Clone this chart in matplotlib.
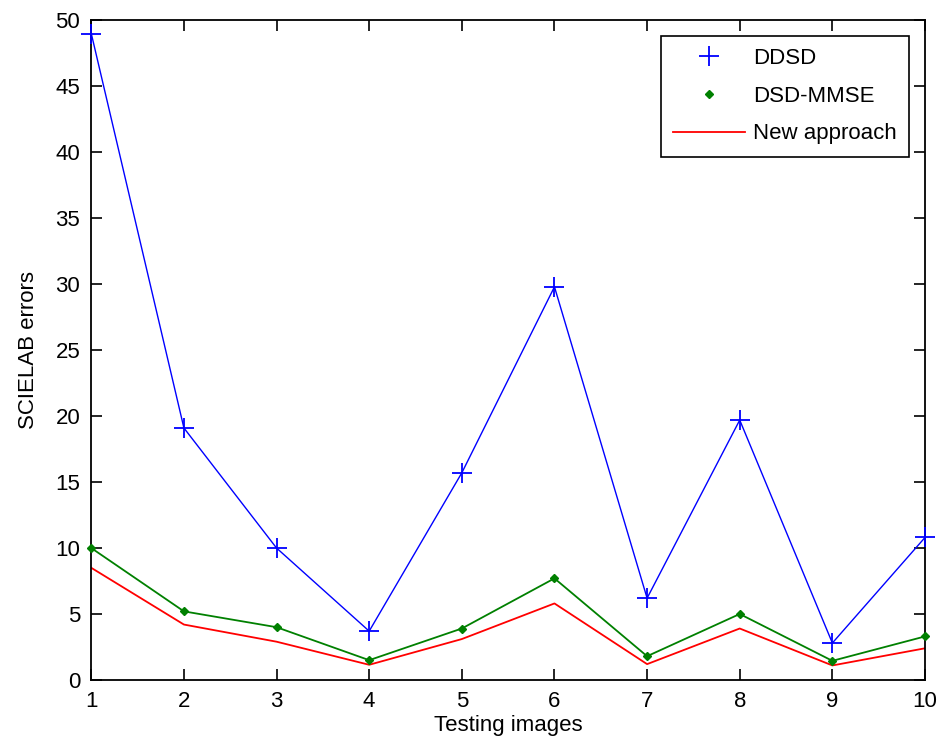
import numpy as np
import matplotlib.pyplot as plt

plt.rcParams['font.family'] = ['Liberation Sans', 'DejaVu Sans']

# data
images = [1, 2, 3, 4, 5, 6, 7, 8, 9, 10]
ddsd = [49.0, 19.1, 10.0, 3.7, 15.7, 29.8, 6.2, 19.7, 2.8, 10.8]
dsd_mmse = [10.0, 5.2, 4.0, 1.5, 3.9, 7.7, 1.8, 5.0, 1.45, 3.3]
new_approach = [8.5, 4.2, 2.9, 1.15, 3.1, 5.8, 1.2, 3.9, 1.1, 2.4]

fig = plt.figure(figsize=(9.41, 7.53), dpi=100)
ax = fig.add_axes([0.097, 0.097, 0.886, 0.876])

# lines without labels, markers with labels (legend shows marker only)
ax.plot(images, ddsd, color='blue', lw=1)
ax.plot(images, ddsd, '+', color='blue', ms=14, mew=1.3, label='DDSD',
        clip_on=False, zorder=5)
ax.plot(images, dsd_mmse, color='green', lw=1.3)
ax.plot(images, dsd_mmse, 'D', color='green', ms=4.5, label='DSD-MMSE',
        clip_on=False, zorder=5)
ax.plot(images, new_approach, color='red', lw=1.3, label='New approach')

ax.set_xlim(1, 10)
ax.set_ylim(0, 50)
ax.set_xticks(images)
ax.set_yticks(np.arange(0, 51, 5))
ax.tick_params(direction='in', top=True, right=True, length=8, width=1.2,
               labelsize=16, pad=8)
for s in ax.spines.values():
    s.set_linewidth(1.3)

ax.set_xlabel('Testing images', fontsize=16, labelpad=2)
ax.set_ylabel('SCIELAB errors', fontsize=16, labelpad=12)

leg = ax.legend(loc='upper right', fontsize=16, fancybox=False, framealpha=1,
                edgecolor='black', borderaxespad=0.7, handlelength=3.2,
                handletextpad=0.4, labelspacing=0.75, borderpad=0.55)
leg.get_frame().set_linewidth(1.2)

fig.savefig('out.png', dpi=100)
plt.close()
